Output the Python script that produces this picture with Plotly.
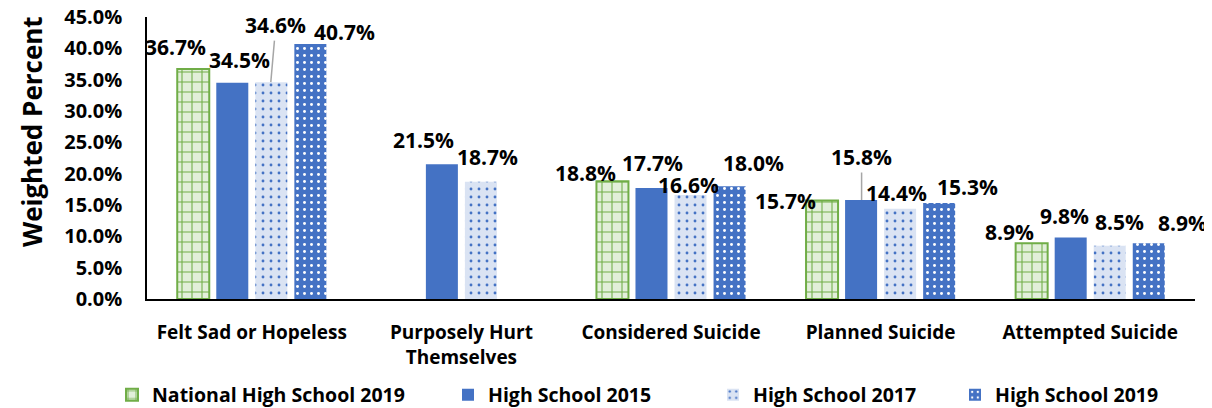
import plotly.graph_objects as go

# ---------------- data ----------------
categories = ["Felt Sad or Hopeless", "Purposely Hurt<br>Themselves", "Considered Suicide",
              "Planned Suicide", "Attempted Suicide"]
series_names = ["National High School 2019", "High School 2015", "High School 2017", "High School 2019"]
national_2019 = [36.7, None, 18.8, 15.7, 8.9]
hs_2015 = [34.5, 21.5, 17.7, 15.8, 9.8]
hs_2017 = [34.6, 18.7, 16.6, 14.4, 8.5]
hs_2019 = [40.7, None, 18.0, 15.3, 8.9]
y_ticks = [0, 5, 10, 15, 20, 25, 30, 35, 40, 45]

# ---------------- styling / label placement (pixels) ----------------
FONT = "Open Sans"
BLUE = "#4472c4"
GREEN = "#70ad47"
PAGE_OFF = 8  # browser body margin
series_offset_px = [-57, -19, 19, 57]
# label offsets from top-centre of bar (dx right, dy up); None => leader line
label_dx = [[-19, None, -29, -38, -24],
            [7, -19, 0, None, -7],
            [None, 7, -2, -3, 10],
            [36, None, 25, 30, 35]]
label_dy = [[22, None, 8, 0, 11],
            [23, 24, 25, None, 22],
            [None, 25, 10, 16, 24],
            [12, None, 23, 16, 20]]
leader = {(2, 0): (5, -57), (1, 3): (0, -43)}

all_series = [national_2019, hs_2015, hs_2017, hs_2019]
styles = [
    dict(color="#e2efda", line=dict(color=GREEN, width=2),
         pattern=dict(shape="+", fgcolor=GREEN, bgcolor="#e2efda", size=10, solidity=0.2, fillmode="replace")),
    dict(color=BLUE, line=dict(width=0)),
    dict(color="#dae3f3", line=dict(width=0),
         pattern=dict(shape=".", fgcolor=BLUE, bgcolor="#dae3f3", size=8, solidity=0.1, fillmode="replace")),
    dict(color=BLUE, line=dict(width=0),
         pattern=dict(shape=".", fgcolor="white", bgcolor=BLUE, size=7, solidity=0.14, fillmode="replace")),
]
legend_ids = ["legend", "legend2", "legend3", "legend4"]
legend_x_px = [112, 448, 713, 955]

LABEL_FONT = dict(family=FONT, size=21, color="black", weight="bold")

fig = go.Figure()
for i, (name, vals) in enumerate(zip(series_names, all_series)):
    fig.add_trace(go.Bar(x=categories, y=vals, name=name, marker=styles[i],
                         legend=legend_ids[i], showlegend=True, hoverinfo="x+y"))

annotations = []
for i, vals in enumerate(all_series):
    for j, v in enumerate(vals):
        if v is None:
            continue
        text = f"{v:.1f}%"
        if (i, j) in leader:
            ax, ay = leader[(i, j)]
            annotations.append(dict(x=categories[j], y=v, xref="x", yref="y", text=text,
                                    xshift=series_offset_px[i], showarrow=True, ax=ax, ay=ay,
                                    arrowhead=0, arrowwidth=1.5, arrowcolor="#a6a6a6",
                                    standoff=0, startstandoff=0, font=LABEL_FONT))
        else:
            annotations.append(dict(x=categories[j], y=v, xref="x", yref="y", text=text,
                                    xshift=series_offset_px[i] + label_dx[i][j], yshift=label_dy[i][j],
                                    showarrow=False, xanchor="center", yanchor="middle",
                                    font=LABEL_FONT))

W, H = 1212, 408
L, R, T, B = 147 - PAGE_OFF, 17 + PAGE_OFF, 17 - PAGE_OFF, 109 + PAGE_OFF
pw = W - L - R
ph = H - T - B
plot_bottom = H - B

def px_to_paper_x(px):
    return (px - PAGE_OFF - L) / pw

def px_to_paper_y(py):
    return (plot_bottom - (py - PAGE_OFF)) / ph

# y-axis title placed as rotated text
annotations.append(dict(text="Weighted Percent", textangle=-90, showarrow=False,
                        xref="paper", yref="paper", x=px_to_paper_x(32), y=px_to_paper_y(132),
                        xanchor="center", yanchor="middle",
                        font=dict(family=FONT, size=26, color="black", weight="bold")))

legend_layouts = {}
for k, lid in enumerate(legend_ids):
    legend_layouts[lid] = dict(x=px_to_paper_x(legend_x_px[k]), y=px_to_paper_y(395),
                               xanchor="left", yanchor="middle", orientation="h",
                               bgcolor="rgba(0,0,0,0)", visible=True,
                               font=dict(family=FONT, size=19.5, color="black", weight="bold"))

fig.update_layout(
    width=W, height=H,
    margin=dict(l=L, r=R, t=T, b=B, autoexpand=False),
    paper_bgcolor="white", plot_bgcolor="white",
    barmode="group", bargap=0.255, bargroupgap=0.18,
    annotations=annotations,
    showlegend=True,
    font=dict(family=FONT, color="black"),
    **legend_layouts,
)
fig.update_xaxes(range=[-0.5, len(categories) - 0.5], autorange=False,
                 showline=True, linecolor="black", linewidth=2, ticks="", showgrid=False,
                 automargin=False,
                 tickfont=dict(family=FONT, size=19, color="black", weight="bold"),
                 ticklabelstandoff=15)
fig.update_yaxes(range=[0, 45], autorange=False, tickvals=y_ticks, ticktext=[f"{t:.1f}%" for t in y_ticks],
                 showline=True, linecolor="black", linewidth=1.5, ticks="", showgrid=False,
                 zeroline=False, automargin=False, ticklabeloverflow="allow",
                 tickfont=dict(family=FONT, size=20, color="black", weight="bold"),
                 ticklabelstandoff=19)

fig.write_html("out.html")
